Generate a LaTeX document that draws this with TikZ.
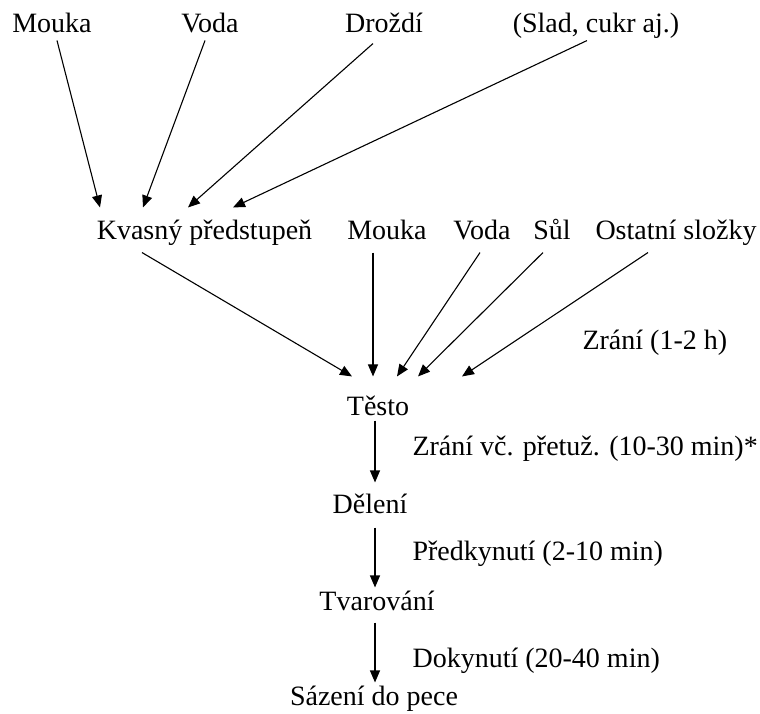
\documentclass[tikz,border=0pt]{standalone}
\usepackage{fontspec}
\setmainfont{LiberationSerif-Regular.ttf}
\usetikzlibrary{arrows.meta}

\begin{document}
\begin{tikzpicture}[x=1pt, y=1pt, line width=1.1pt,
    >={Triangle[length=12pt, width=10pt]},
    item/.style={inner sep=0pt, anchor=base, text height=21pt, text depth=7pt,
                 font=\fontsize{28}{34}\selectfont},
    note/.style={item, anchor=base west}]
    \useasboundingbox (0,0) rectangle (760,713);

    % suroviny pro kvasny predstupen
    \node[item] at (52,680)     (mouka1)     {Mouka};
    \node[item] at (210,680)    (voda1)      {Voda};
    \node[item] at (384,680)    (drozdi)     {Droždí};
    \node[item] at (596,680)    (slad)       {(Slad, cukr aj.)};

    % suroviny pro testo
    \node[item] at (204.5,473)  (kvas)       {Kvasný předstupeň};
    \node[item] at (387,473)    (mouka2)     {Mouka};
    \node[item] at (482,473)    (voda2)      {Voda};
    \node[item] at (552,473)    (sul)        {Sůl};
    \node[item] at (676,473)    (ostatni)    {Ostatní složky};
    \node[note] at (582,363)    (zrani1)     {Zrání (1-2 h)};

    % zpracovani
    \node[item] at (378,298)    (testo)      {Těsto};
    \node[item] at (370,200)    (deleni)     {Dělení};
    \node[item] at (377,103)    (tvarovani)  {Tvarování};
    \node[item] at (374,8)      (sazeni)     {Sázení do pece};
    \node[note] at (412,258)    (zrani2)     {Zrání vč. přetuž. (10-30 min)*};
    \node[note] at (412,153)    (predkynuti) {Předkynutí (2-10 min)};
    \node[note] at (412,46)     (dokynuti)   {Dokynutí (20-40 min)};

    \draw[->] ([xshift=5]mouka1.south)           -- ([xshift=-104.5, yshift=11]kvas.north);
    \draw[->] ([xshift=-5]voda1.south)           -- ([xshift=-61.5, yshift=11]kvas.north);
    \draw[->] ([xshift=-11, yshift=-3]drozdi.south) -- ([xshift=-16.5, yshift=11]kvas.north);
    \draw[->] ([xshift=-9]slad.south)            -- ([xshift=28.5, yshift=11]kvas.north);

    \draw[->] ([xshift=-62.5, yshift=-5]kvas.south) -- ([xshift=-26, yshift=17]testo.north);
    \draw[->] ([xshift=-14, yshift=-5]mouka2.south) -- ([xshift=-5, yshift=17]testo.north);
    \draw[->] ([xshift=-2, yshift=-5]voda2.south)   -- ([xshift=19, yshift=17]testo.north);
    \draw[->] ([xshift=-9, yshift=-5]sul.south)     -- ([xshift=40, yshift=17]testo.north);
    \draw[->] ([xshift=-28, yshift=-5]ostatni.south) -- ([xshift=84, yshift=17]testo.north);

    \draw[->] ([xshift=-3, yshift=2]testo.south)     -- ([xshift=5, yshift=9]deleni.north);
    \draw[->] ([xshift=5, yshift=-7]deleni.south)    -- ([xshift=-2, yshift=1]tvarovani.north);
    \draw[->] ([xshift=-2, yshift=-5]tvarovani.south) -- ([xshift=1, yshift=1]sazeni.north);
\end{tikzpicture}
\end{document}
